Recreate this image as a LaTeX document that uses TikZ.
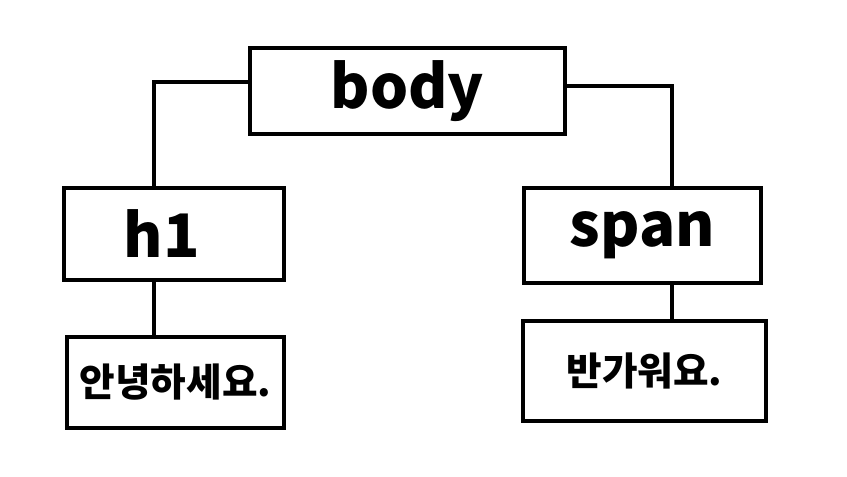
\documentclass[tikz,border=0pt]{standalone}
\usepackage{fontspec}
\newfontfamily\krfont{Noto Sans CJK KR}
\tikzset{
  tag/.style={
    draw,
    line width=3.2pt,
    font=\krfont\bfseries\fontsize{45}{50}\selectfont,
    inner sep=0pt
  },
  leaf/.style={
    tag,
    font=\krfont\bfseries\fontsize{29}{32}\selectfont
  },
  link/.style={
    line width=3.2pt
  }
}

\begin{document}
\begin{tikzpicture}[x=0.75pt,y=-0.75pt]
  \useasboundingbox (0,0) rectangle (847,476);

  \node[tag, minimum width=236pt, minimum height=65pt] (body) at (407.5,91) {body};
  \node[tag, minimum width=165pt, minimum height=69pt] (h1) at (174,234) {};
  \node[font=\krfont\bfseries\fontsize{45}{50}\selectfont] (h1text) at (162,234) {h1};
  \node[tag, minimum width=178pt, minimum height=71pt] (span) at (642.5,235.5) {span};

  \node[leaf, minimum width=163pt, minimum height=68pt] (hello) at (175.5,382.5) {안녕하세요.};
  \node[leaf, minimum width=182pt, minimum height=75pt] (nice) at (644.5,371) {반가워요.};

  \draw[link] ([yshift=6.75pt]body.west) -| ([xshift=-15pt]h1.north);
  \draw[link] ([yshift=3.75pt]body.east) -| ([xshift=22pt]span.north);
  \draw[link] ([xshift=-15pt]h1.south) -- ([xshift=-15pt]h1.south |- hello.north);
  \draw[link] ([xshift=22pt]span.south) -- ([xshift=22pt]span.south |- nice.north);
\end{tikzpicture}
\end{document}
